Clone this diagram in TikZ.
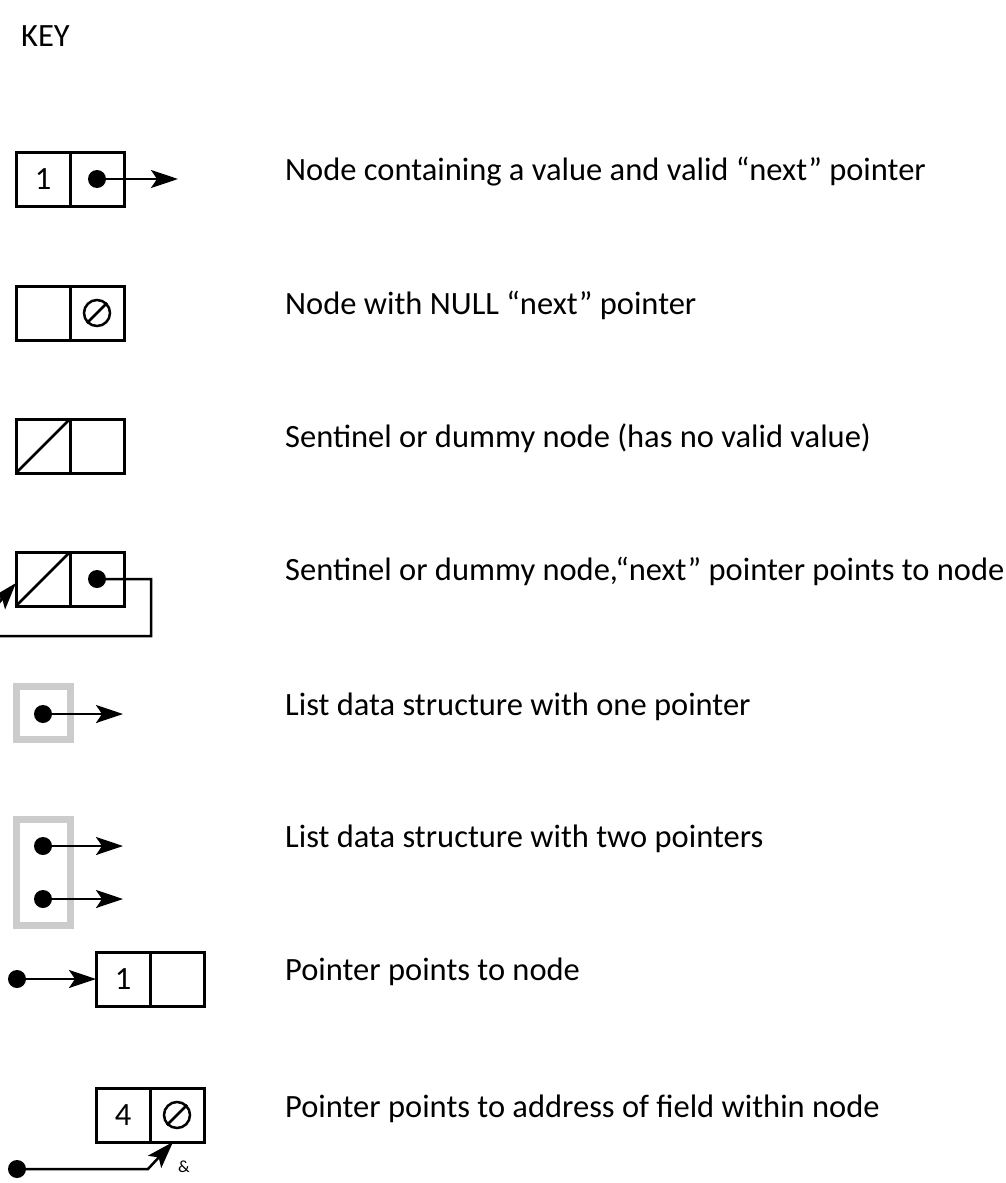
\documentclass[tikz,border=0pt]{standalone}
\usepackage{fontspec}
\setmainfont{Carlito}
\usetikzlibrary{arrows.meta,positioning}

\tikzset{
    cell/.style={draw, line width=3pt, minimum size=54pt, inner sep=0pt, outer sep=0pt,
        font=\fontsize{32.5}{38}\selectfont},
    dot/.style={circle, fill, minimum size=18pt, inner sep=0pt, outer sep=0pt},
    ptr/.style={line width=2.5pt, -{Stealth[length=27pt,width=18pt,inset=6pt]}},
    nullsym/.style={circle, draw, line width=2.5pt, minimum size=26pt, inner sep=0pt},
    slash/.style={line width=2.5pt},
    listbox/.style={draw=black!20, line width=7pt, minimum width=54pt, inner sep=0pt},
    keytext/.style={anchor=base west, inner sep=0pt, font=\fontsize{32.5}{38}\selectfont}
}

\begin{document}
\begin{tikzpicture}[x=1pt, y=-1pt]
        \path[use as bounding box] (0,0) rectangle (1005,1183);
        \clip (0,0) rectangle (1005,1183);

        \node (key) [keytext] at (21,46) {KEY};

        % value + next pointer
        \node (a1) [cell] at (43,179) {1};
        \node (a2) [cell, right=0pt of a1] {};
        \node (a2dot) [dot] at (a2.center) {};
        \coordinate (a2end) at (178,179);
        \draw[ptr] (a2dot.center) -- (a2end);
        \node (t1) [keytext] at (285,180) {Node containing a value and valid “next” pointer};

        % NULL next
        \node (b1) [cell] at (43,313) {};
        \node (b2) [cell, right=0pt of b1] {};
        \node (b2nul) [nullsym] at (b2.center) {};
        \draw[slash] (b2nul.225) -- (b2nul.45);
        \node (t2) [keytext] at (285,314) {Node with NULL “next” pointer};

        % sentinel
        \node (c1) [cell] at (43,446) {};
        \node (c2) [cell, right=0pt of c1] {};
        \draw[slash] (c1.south west) -- (c1.north east);
        \node (t3) [keytext] at (285,447) {Sentinel or dummy node (has no valid value)};

        % sentinel pointing to itself
        \node (d1) [cell] at (43,579) {};
        \node (d2) [cell, right=0pt of d1] {};
        \draw[slash] (d1.south west) -- (d1.north east);
        \node (d2dot) [dot] at (d2.center) {};
        \coordinate (d1in) at (16,583);
        \draw[ptr] (d2dot.center) -- ++(54,0) |- (-30,636) -- (d1in);
        \node (t4) [keytext] at (285,580) {Sentinel or dummy node,“next” pointer points to node};

        % list, one pointer
        \node (e) [listbox, minimum height=53pt] at (43.5,713) {};
        \node (edot) [dot] at (43,714) {};
        \coordinate (eend) at (123,714);
        \draw[ptr] (edot.center) -- (eend);
        \node (t5) [keytext] at (285,715) {List data structure with one pointer};

        % list, two pointers
        \node (f) [listbox, minimum height=106pt] at (43.5,872.5) {};
        \node (fdot1) [dot] at (43,846) {};
        \node (fdot2) [dot] at (43,899) {};
        \coordinate (fend1) at (123,846);
        \coordinate (fend2) at (123,899);
        \draw[ptr] (fdot1.center) -- (fend1);
        \draw[ptr] (fdot2.center) -- (fend2);
        \node (t6) [keytext] at (285,847) {List data structure with two pointers};

        % pointer to node
        \node (g1) [cell] at (123,979) {1};
        \node (g2) [cell, right=0pt of g1] {};
        \node (gdot) [dot] at (17,979) {};
        \draw[ptr] (gdot.center) -- (g1.west);
        \node (t7) [keytext] at (285,980) {Pointer points to node};

        % pointer to field
        \node (h1) [cell] at (123,1115) {4};
        \node (h2) [cell, right=0pt of h1] {};
        \node (h2nul) [nullsym] at (h2.center) {};
        \draw[slash] (h2nul.225) -- (h2nul.45);
        \node (hdot) [dot] at (17,1169) {};
        \coordinate (hin) at ([xshift=-4pt]h2.south);
        \draw[ptr] (hdot.center) -- (148,1169) -- (hin);
        \node (amp) [font=\fontsize{17}{20}\selectfont] at (184,1167) {\&};
        \node (t8) [keytext] at (285,1117) {Pointer points to address of field within node};
\end{tikzpicture}
\end{document}
